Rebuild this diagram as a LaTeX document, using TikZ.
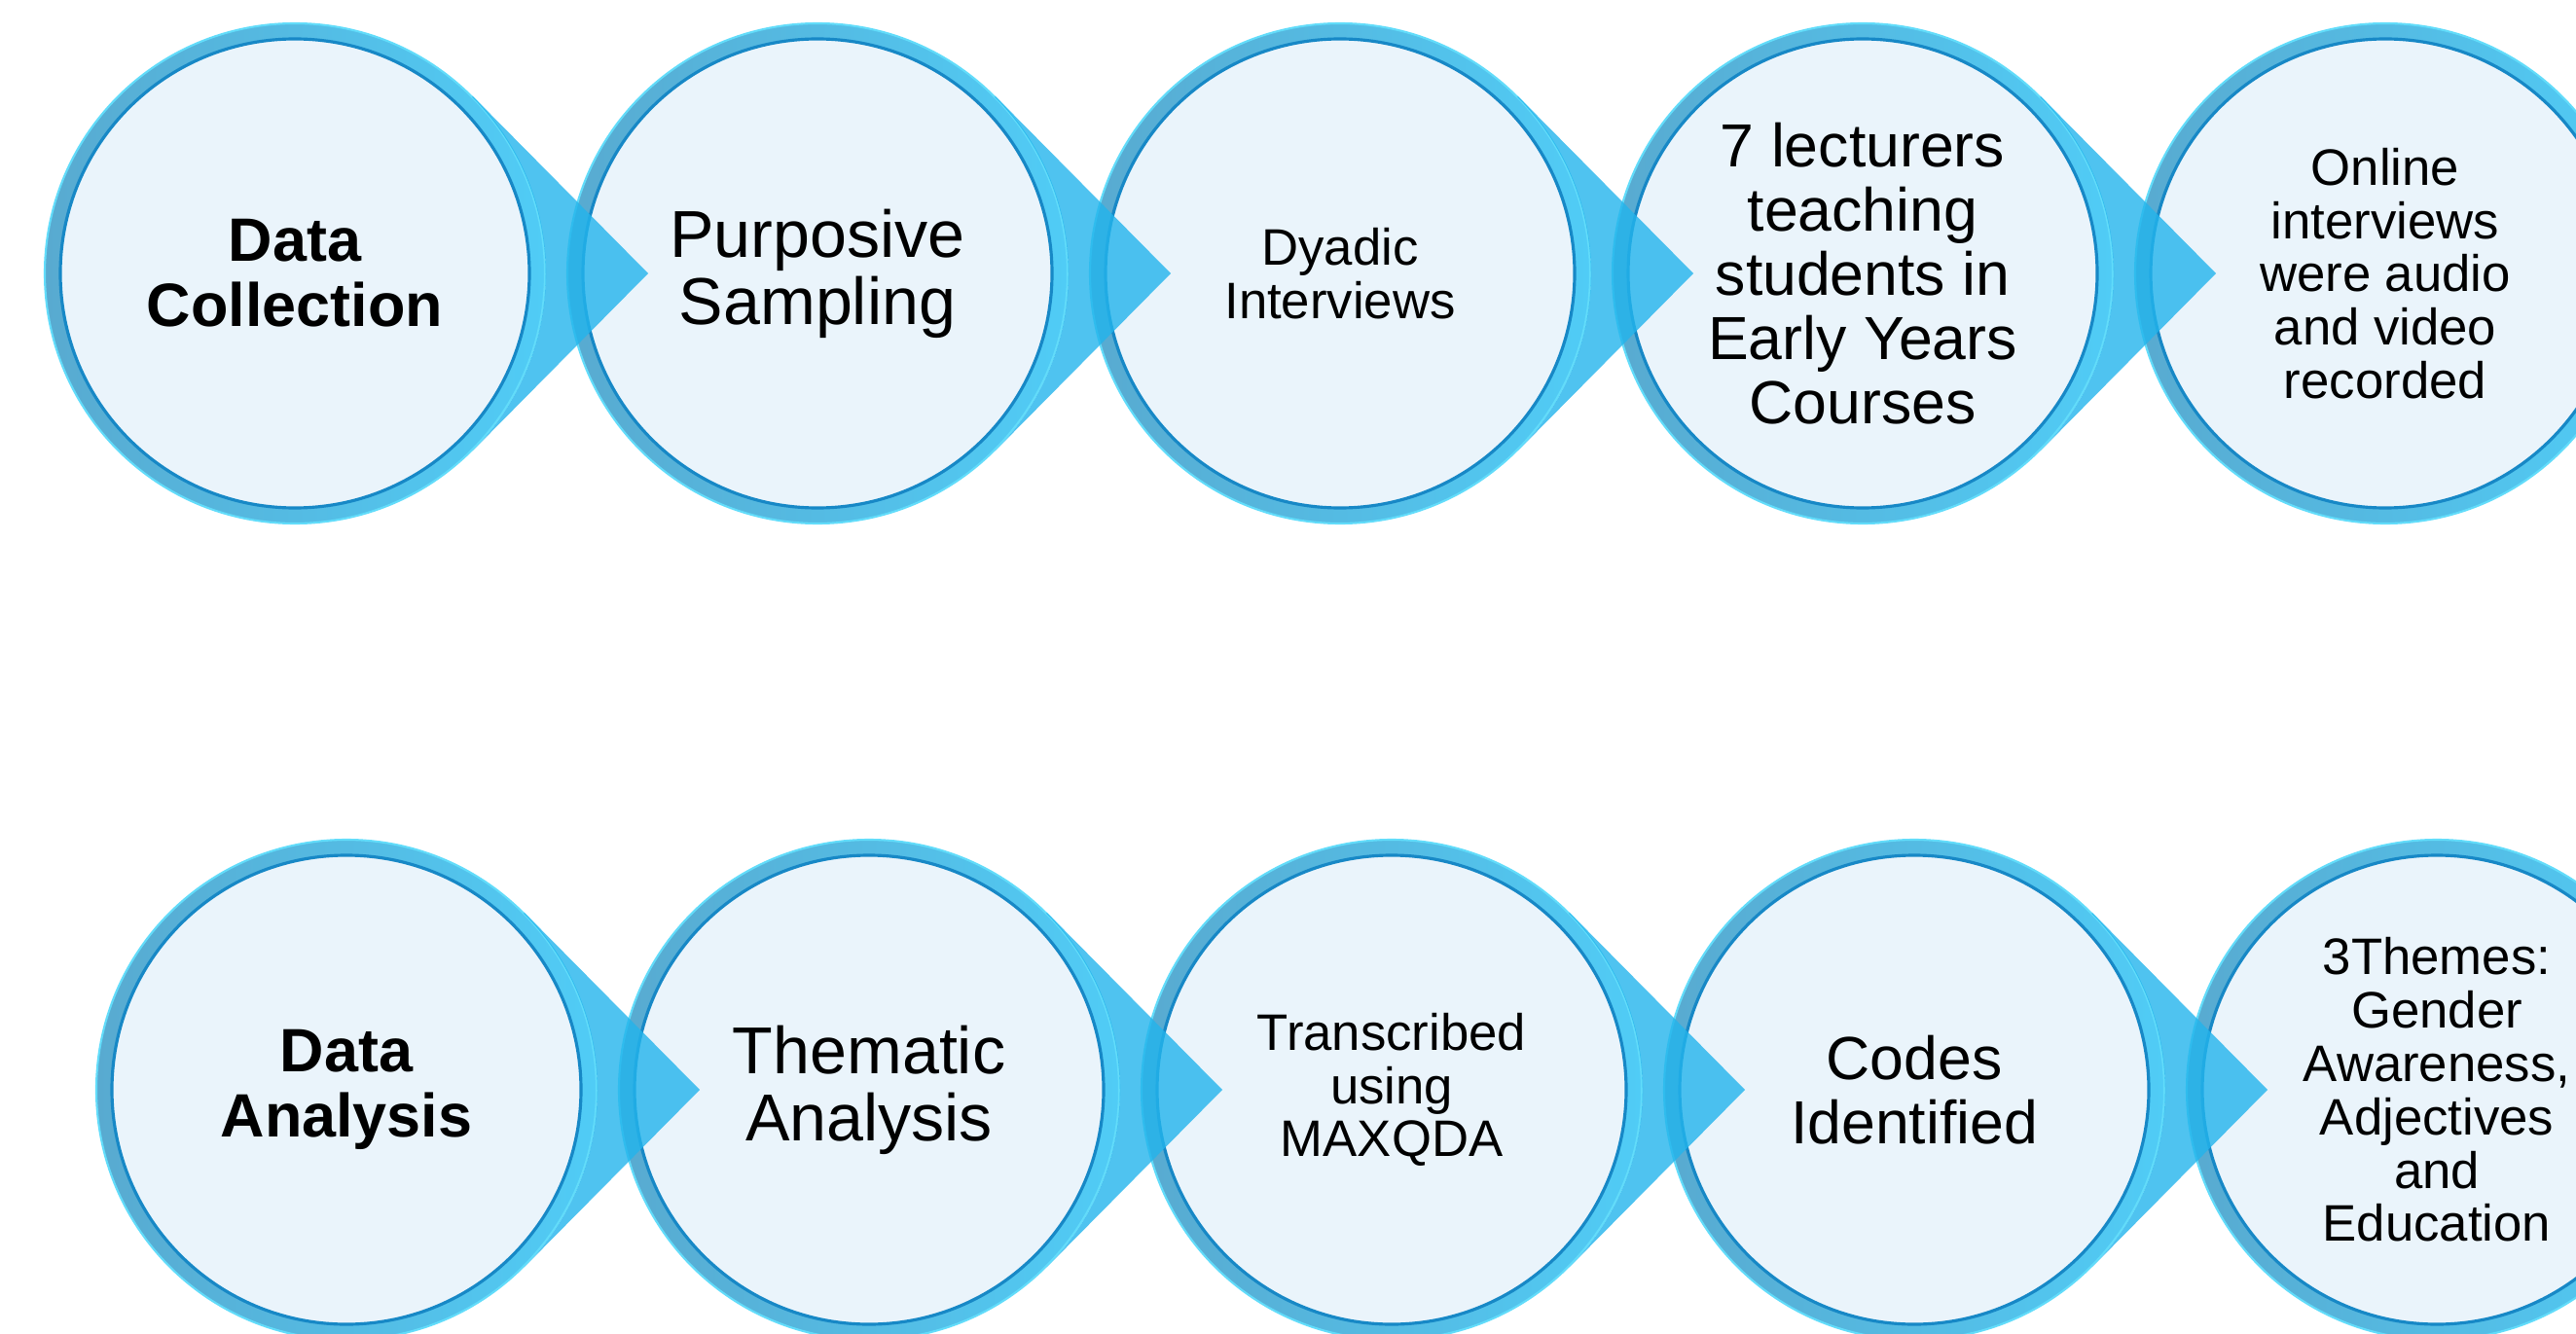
\documentclass[tikz,border=0pt]{standalone}
\usepackage{fontspec}
\setmainfont{Liberation Sans}
\usetikzlibrary{positioning}

\definecolor{ringdark}{HTML}{58AAD0}
\definecolor{ringlight}{HTML}{50CCF6}
\definecolor{ringedge}{HTML}{62DCFA}
\definecolor{discfill}{HTML}{EAF4FB}
\definecolor{rimblue}{HTML}{1788C6}
\definecolor{tipblue}{HTML}{23B4EC}

\begin{document}
\begin{tikzpicture}[
    stage/.style={circle, minimum size=5.14cm, inner sep=0pt, align=center,
        draw=ringedge, line width=0.6pt,
        left color=ringdark, right color=ringlight,
        path picture={
            \fill[discfill] (path picture bounding box.center) circle (2.41);
            \draw[rimblue, line width=0.9pt] (path picture bounding box.center) circle (2.41);
        }},
    pointer/.style={fill=tipblue, fill opacity=0.8},
    heading/.style={font=\bfseries\fontsize{17.9}{19}\selectfont},
    large/.style={font=\fontsize{19.4}{19.6}\selectfont},
    medium/.style={font=\fontsize{17.8}{18.8}\selectfont},
    small/.style={font=\fontsize{15}{15.6}\selectfont}
]
    \path[use as bounding box, clip] (0,0) rectangle (26.47,13.70);

    % collection row
    \node[stage, heading] (dc) at (3.03, 10.89) {Data\\Collection};
    \node[stage, large]   (ps) at (8.40, 10.89) {Purposive\\Sampling};
    \node[stage, small]   (di) at (13.77, 10.89) {Dyadic\\Interviews};
    \node[stage, medium]  (lc) at (19.14, 10.89) {7 lecturers\\teaching\\students in\\Early Years\\Courses};
    \node[stage, small]   (oi) at (24.51, 10.89) {Online\\interviews\\were audio\\and video\\recorded};

    % analysis row
    \node[stage, heading] (da) at (3.56, 2.50) {Data\\Analysis};
    \node[stage, large]   (ta) at (8.93, 2.50) {Thematic\\Analysis};
    \node[stage, small]   (tr) at (14.30, 2.50) {Transcribed\\using\\MAXQDA};
    \node[stage, medium]  (ci) at (19.67, 2.50) {Codes\\Identified};
    \node[stage, small]   (th) at (25.04, 2.50) {3Themes:\\Gender\\Awareness,\\Adjectives\\and\\Education};

    % pointed tips laid over the following circle
    \path[pointer] (dc.45) -- ([xshift=3.63cm]dc.center) -- (dc.-45) arc[start angle=-45, end angle=45, radius=2.57cm] -- cycle;
    \path[pointer] (ps.45) -- ([xshift=3.63cm]ps.center) -- (ps.-45) arc[start angle=-45, end angle=45, radius=2.57cm] -- cycle;
    \path[pointer] (di.45) -- ([xshift=3.63cm]di.center) -- (di.-45) arc[start angle=-45, end angle=45, radius=2.57cm] -- cycle;
    \path[pointer] (lc.45) -- ([xshift=3.63cm]lc.center) -- (lc.-45) arc[start angle=-45, end angle=45, radius=2.57cm] -- cycle;
    \path[pointer] (da.45) -- ([xshift=3.63cm]da.center) -- (da.-45) arc[start angle=-45, end angle=45, radius=2.57cm] -- cycle;
    \path[pointer] (ta.45) -- ([xshift=3.63cm]ta.center) -- (ta.-45) arc[start angle=-45, end angle=45, radius=2.57cm] -- cycle;
    \path[pointer] (tr.45) -- ([xshift=3.63cm]tr.center) -- (tr.-45) arc[start angle=-45, end angle=45, radius=2.57cm] -- cycle;
    \path[pointer] (ci.45) -- ([xshift=3.63cm]ci.center) -- (ci.-45) arc[start angle=-45, end angle=45, radius=2.57cm] -- cycle;
\end{tikzpicture}
\end{document}
